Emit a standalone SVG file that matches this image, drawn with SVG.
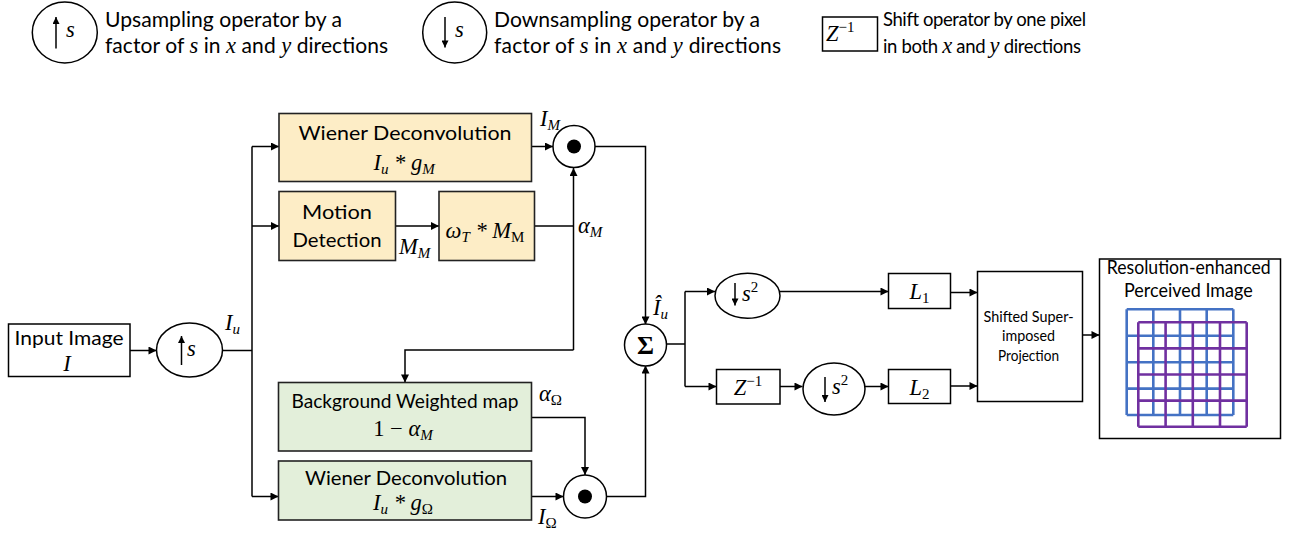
<svg xmlns="http://www.w3.org/2000/svg" width="1298" height="533" viewBox="0 0 1298 533">
<style>
.t{font-family:Lato,"Liberation Sans",sans-serif;font-size:20px;fill:#000}
.tl{font-family:Lato,"Liberation Sans",sans-serif;font-size:21px;fill:#000}
.tm{font-family:Lato,"Liberation Sans",sans-serif;font-size:18.5px;fill:#000}
.ts{font-family:Lato,"Liberation Sans",sans-serif;font-size:14.5px;fill:#000}
.m{font-family:"Liberation Serif",serif;font-style:italic;font-size:22.5px;fill:#000}
.s{font-size:15px}
.n{font-style:normal}
.box{fill:#fff;stroke:#000;stroke-width:1.5}
.y{fill:#FDEDC6;stroke:#222;stroke-width:1.6}
.g{fill:#E3EFDA;stroke:#222;stroke-width:1.6}
.c{fill:#fff;stroke:#000;stroke-width:1.5}
.ln{fill:none;stroke:#000;stroke-width:1.5}
.ar{fill:none;stroke:#000;stroke-width:1.5;marker-end:url(#ah)}
.ia{fill:none;stroke:#000;stroke-width:1.5;marker-end:url(#ahs)}
.bl{fill:none;stroke:#4472C4;stroke-width:2.6}
.pu{fill:none;stroke:#7030A0;stroke-width:2.6}
</style>
<defs>
<marker id="ah" viewBox="0 0 10 10" refX="10" refY="5" markerWidth="9" markerHeight="8" markerUnits="userSpaceOnUse" orient="auto"><path d="M0,0 L10,5 L0,10 z" fill="#000"/></marker>
<marker id="ahs" viewBox="0 0 10 10" refX="10" refY="5" markerWidth="8" markerHeight="7" markerUnits="userSpaceOnUse" orient="auto"><path d="M0,0 L10,5 L0,10 z" fill="#000"/></marker>
</defs>

<g id="legend">
<g id="legend-up">
<ellipse class="c" cx="64.8" cy="32.5" rx="32.5" ry="30.5"/>
<path class="ia" d="M56,48.5 V17"/>
<text class="m" x="66" y="37">s</text>
<text class="tl" x="105" y="27" textLength="237" lengthAdjust="spacingAndGlyphs">Upsampling operator by a</text>
<text class="tl" x="105" y="53" textLength="283" lengthAdjust="spacing">factor of <tspan class="m">s</tspan> in <tspan class="m">x</tspan> and <tspan class="m">y</tspan> directions</text>
</g>
<g id="legend-down">
<ellipse class="c" cx="454.7" cy="32.5" rx="32" ry="30.5"/>
<path class="ia" d="M445,17 V47.5"/>
<text class="m" x="455" y="37">s</text>
<text class="tl" x="494" y="27" textLength="266" lengthAdjust="spacingAndGlyphs">Downsampling operator by a</text>
<text class="tl" x="494" y="53" textLength="287" lengthAdjust="spacing">factor of <tspan class="m">s</tspan> in <tspan class="m">x</tspan> and <tspan class="m">y</tspan> directions</text>
</g>
<g id="legend-shift">
<rect class="box" x="822.5" y="17" width="55" height="34"/>
<text class="m" x="826" y="41">Z<tspan class="s n" dy="-9">−1</tspan></text>
<text class="tm" x="883" y="26" textLength="203" lengthAdjust="spacing">Shift operator by one pixel</text>
<text class="tm" x="883" y="53" textLength="198" lengthAdjust="spacing">in both <tspan class="m" font-size="20">x</tspan> and <tspan class="m" font-size="20">y</tspan> directions</text>
</g>
</g>

<g id="connectors">
<path class="ar" d="M130,350.5 H156.5"/>
<path class="ln" d="M222.5,350.5 H252"/>
<path class="ln" d="M252,146.5 V496.5"/>
<path class="ar" d="M252,146.5 H279"/>
<path class="ar" d="M252,226 H279"/>
<path class="ar" d="M252,496.5 H278.5"/>
<path class="ar" d="M531.5,146.5 H553"/>
<path class="ar" d="M395.5,226 H439"/>
<path class="ln" d="M534.5,226 H573.5"/>
<path class="ar" d="M573.5,350 V168"/>
<path class="ar" d="M573.5,350 H405 V382.5"/>
<path class="ar" d="M595,146.5 H645.5 V324.5"/>
<path class="ar" d="M531.5,417.5 H585 V475"/>
<path class="ar" d="M531.5,496.5 H563.5"/>
<path class="ar" d="M606.5,496.5 H645.5 V365.5"/>
<path class="ln" d="M666.5,344 H685"/>
<path class="ln" d="M685,291.5 V386.5"/>
<path class="ar" d="M685,291.5 H715"/>
<path class="ar" d="M780,291.5 H888.5"/>
<path class="ar" d="M685,386.5 H716.5"/>
<path class="ar" d="M780,386.5 H802.5"/>
<path class="ar" d="M865,386.5 H888.5"/>
<path class="ar" d="M950.5,292.5 H977.5"/>
<path class="ar" d="M950.5,386 H977.5"/>
<path class="ar" d="M1082.5,335 H1099.5"/>
</g>

<g id="labels">
<text class="m" x="225" y="330">I<tspan class="s" dy="4">u</tspan></text>
<text class="m" x="540" y="126">I<tspan class="s" dy="4">M</tspan></text>
<text class="m" x="399" y="254">M<tspan class="s" dy="4">M</tspan></text>
<text class="m" x="578" y="233">α<tspan class="s" dy="4">M</tspan></text>
<text class="m" x="653" y="315">Î<tspan class="s" dy="4">u</tspan></text>
<text class="m" x="539" y="401">α<tspan class="s n" dy="4">Ω</tspan></text>
<text class="m" x="538" y="524">I<tspan class="s n" dy="4">Ω</tspan></text>
</g>

<g id="input">
<rect class="box" x="8.5" y="324" width="121.5" height="52.5"/>
<text class="t" x="69" y="345" text-anchor="middle" textLength="109" lengthAdjust="spacingAndGlyphs">Input Image</text>
<text class="m" x="67" y="371" text-anchor="middle">I</text>
</g>

<g id="upsample">
<ellipse class="c" cx="189.5" cy="350" rx="33" ry="27"/>
<path class="ia" d="M181.5,365 V336"/>
<text class="m" x="187" y="356">s</text>
</g>

<g id="wiener-m">
<rect class="y" x="279" y="113.5" width="252.5" height="68"/>
<text class="t" x="405" y="140" text-anchor="middle" textLength="213" lengthAdjust="spacingAndGlyphs">Wiener Deconvolution</text>
<text class="m" x="404" y="170" text-anchor="middle">I<tspan class="s" dy="4">u</tspan><tspan dy="-4"> * g</tspan><tspan class="s" dy="4">M</tspan></text>
</g>

<g id="motion">
<rect class="y" x="279" y="191.5" width="116.5" height="69"/>
<text class="t" x="337" y="219" text-anchor="middle" textLength="70" lengthAdjust="spacingAndGlyphs">Motion</text>
<text class="t" x="337" y="246.5" text-anchor="middle" textLength="89" lengthAdjust="spacingAndGlyphs">Detection</text>
</g>

<g id="omega">
<rect class="y" x="439" y="191.5" width="95.5" height="69"/>
<text class="m" x="485" y="238" text-anchor="middle">ω<tspan class="s" dy="4">T</tspan><tspan dy="-4"> * M</tspan><tspan class="s n" dy="4">M</tspan></text>
</g>

<g id="prod-m">
<circle class="c" cx="574" cy="146.5" r="21"/>
<circle cx="574" cy="146.5" r="7" fill="#000"/>
</g>

<g id="background">
<rect class="g" x="278.5" y="382.5" width="253" height="68.5"/>
<text class="t" x="405" y="408" text-anchor="middle" textLength="227" lengthAdjust="spacingAndGlyphs">Background Weighted map</text>
<text class="m" x="403" y="436" text-anchor="middle"><tspan class="n">1 − </tspan>α<tspan class="s" dy="4">M</tspan></text>
</g>

<g id="wiener-o">
<rect class="g" x="278.5" y="461" width="253" height="59"/>
<text class="t" x="406" y="485" text-anchor="middle" textLength="202" lengthAdjust="spacingAndGlyphs">Wiener Deconvolution</text>
<text class="m" x="403" y="510" text-anchor="middle">I<tspan class="s" dy="4">u</tspan><tspan dy="-4"> * g</tspan><tspan class="s n" dy="4">Ω</tspan></text>
</g>

<g id="prod-o">
<circle class="c" cx="585" cy="496.5" r="21.5"/>
<circle cx="585" cy="496.5" r="7" fill="#000"/>
</g>

<g id="sum">
<circle class="c" cx="645.5" cy="345" r="21"/>
<text x="645.5" y="354" text-anchor="middle" font-family="'Liberation Serif',serif" font-weight="bold" font-size="26">Σ</text>
</g>

<g id="down1">
<ellipse class="c" cx="747.5" cy="295.8" rx="32.5" ry="22.5"/>
<path class="ia" d="M735,283 V305.5"/>
<text class="m" x="742" y="301">s<tspan class="s n" dy="-9">2</tspan></text>
</g>

<g id="L1">
<rect class="box" x="888.5" y="273.5" width="62" height="35"/>
<text class="m" x="919.5" y="299" text-anchor="middle">L<tspan class="s n" dy="4">1</tspan></text>
</g>

<g id="shift">
<rect class="box" x="716.5" y="369.5" width="63.5" height="34.5"/>
<text class="m" x="748" y="395" text-anchor="middle">Z<tspan class="s n" dy="-9">−1</tspan></text>
</g>

<g id="down2">
<ellipse class="c" cx="834" cy="389" rx="31" ry="26"/>
<path class="ia" d="M825,377 V402"/>
<text class="m" x="832" y="394">s<tspan class="s n" dy="-9">2</tspan></text>
</g>

<g id="L2">
<rect class="box" x="888.5" y="369.5" width="62" height="34"/>
<text class="m" x="919.5" y="395" text-anchor="middle">L<tspan class="s n" dy="4">2</tspan></text>
</g>

<g id="projection">
<rect class="box" x="977.5" y="271.5" width="105" height="130"/>
<text class="ts" x="1028.5" y="321.5" text-anchor="middle" textLength="90" lengthAdjust="spacingAndGlyphs">Shifted Super-</text>
<text class="ts" x="1028.5" y="341" text-anchor="middle" textLength="53" lengthAdjust="spacingAndGlyphs">imposed</text>
<text class="ts" x="1028.5" y="360.5" text-anchor="middle" textLength="61" lengthAdjust="spacingAndGlyphs">Projection</text>
</g>

<g id="output">
<rect class="box" x="1099.5" y="259" width="181" height="179.5"/>
<text class="t" x="1188.7" y="274" text-anchor="middle" font-size="18.5" textLength="164" lengthAdjust="spacingAndGlyphs">Resolution-enhanced</text>
<text class="t" x="1188.4" y="296.5" text-anchor="middle" font-size="18.5" textLength="128.7" lengthAdjust="spacingAndGlyphs">Perceived Image</text>
<path class="bl" d="M1126.7,309.3 V415 M1153.3,309.3 V415 M1180,309.3 V415 M1206.7,309.3 V415 M1233.3,309.3 V415 M1126.7,309.3 H1233.3 M1126.7,335.7 H1233.3 M1126.7,362.2 H1233.3 M1126.7,388.6 H1233.3 M1126.7,415 H1233.3"/>
<path class="pu" d="M1138.3,322.3 V426.7 M1165.6,322.3 V426.7 M1192.8,322.3 V426.7 M1220,322.3 V426.7 M1246.7,322.3 V426.7 M1138.3,322.3 H1246.7 M1138.3,348.4 H1246.7 M1138.3,374.5 H1246.7 M1138.3,400.6 H1246.7 M1138.3,426.7 H1246.7"/>
</g>
</svg>
